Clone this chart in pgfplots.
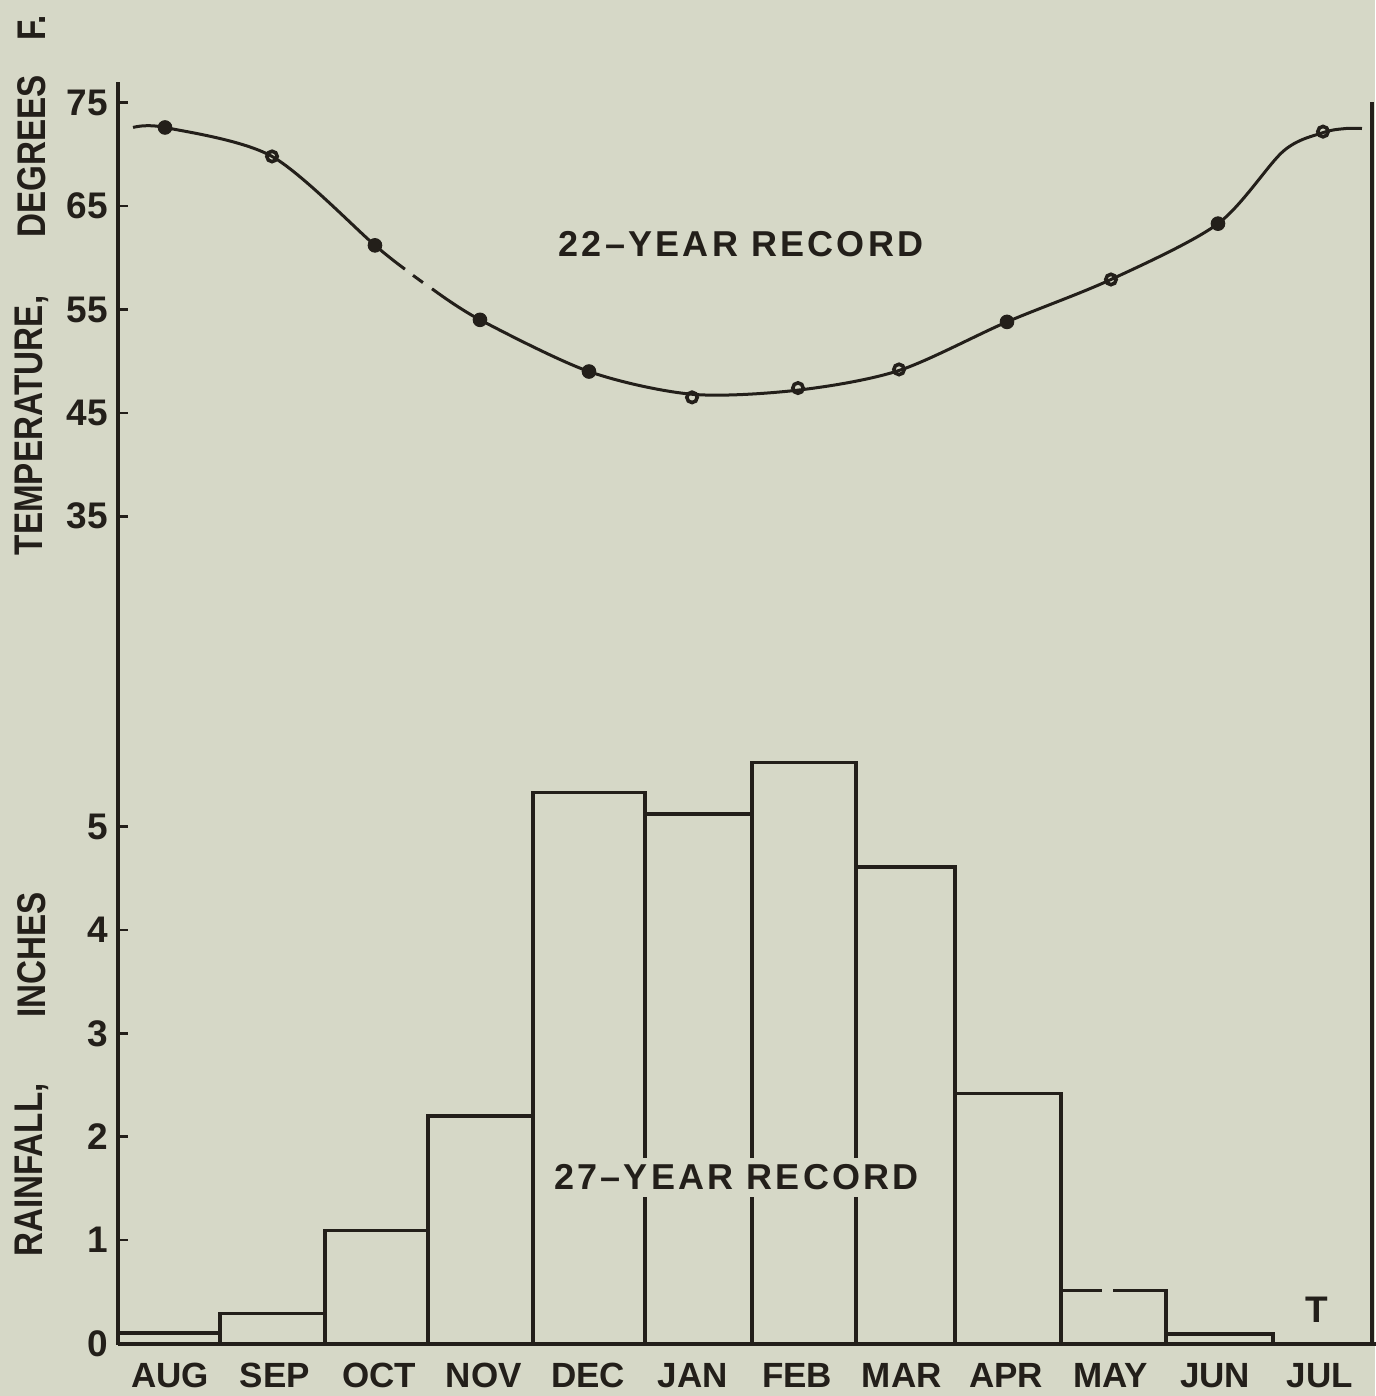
\documentclass[border=0pt]{standalone}
\usepackage{fontspec}
\usepackage{pgfplots}
\pgfplotsset{compat=1.18}
\usepackage{pgfplotstable}
\setmainfont{Liberation Sans}
\newfontfamily\labfont{Liberation Sans Bold}[FakeStretch=0.83]
\newfontfamily\numfont{Liberation Sans Bold}
\newfontfamily\recfont{Liberation Sans Bold}[LetterSpace=9]
\definecolor{bg}{RGB}{214,216,199}
\definecolor{ink}{RGB}{35,31,26}

% temperature curve (x in months, AUG=0; T in degrees F)
\pgfplotstableread{
x T
-0.356 72.6
-0.05 72.6
0.974 69.8
1.959 61.2
2.246 58.9
}\tempA
\pgfplotstableread{
x T
2.323 58.3
2.418 57.6
}\tempGap
\pgfplotstableread{
x T
2.505 57.0
2.964 54.0
4.007 49.0
4.993 46.8
6.007 47.2
6.974 49.1
8.007 53.8
9.002 57.9
10.026 63.3
10.65 70.3
11.031 72.1
11.25 72.5
11.404 72.5
}\tempB
\pgfplotstableread{
x T
-0.05 72.6
1.959 61.2
2.964 54.0
4.007 49.0
8.007 53.8
10.026 63.3
}\markFilled
\pgfplotstableread{
x T
0.974 69.8
4.993 46.5
6.007 47.4
6.974 49.2
9.002 57.9
11.031 72.2
}\markOpen
% rainfall, inches (left edge of each month, value)
\pgfplotstableread{
x rain
-0.5 0.10
0.476 0.29
1.481 1.09
2.467 2.20
3.471 5.33
4.543 5.12
5.567 5.62
6.562 4.61
7.510 2.42
8.524 0
}\rainA
\pgfplotstableread{
x rain
9.529 0.09
10.553 0
}\rainB

\begin{document}
\begin{tikzpicture}
\fill[bg, use as bounding box] (0,0) rectangle (687.5pt,698pt);
\begin{axis}[
  at={(59pt,26.25pt)}, anchor=south west,
  width=627pt, height=630.75pt, scale only axis,
  xmin=-0.5, xmax=11.5, ymin=0, ymax=12.2,
  axis x line=bottom, axis y line=left,
  axis line style={line width=2pt, -, ink},
  clip=false,
  xtick={0,...,11},
  xticklabels={AUG,SEP,OCT,NOV,DEC,JAN,FEB,MAR,APR,MAY,JUN,JUL},
  xtick style={draw=none},
  ytick={0,1,2,3,4,5,8,9,10,11,12},
  yticklabels={0,1,2,3,4,5,35,45,55,65,75},
  ytick style={line width=1.3pt, ink},
  tick align=inside, major tick length=5pt,
  xticklabel style={font=\numfont\fontsize{17.5pt}{17.5pt}\selectfont, text=ink, anchor=base, yshift=-21.75pt},
  yticklabel style={font=\numfont\fontsize{18.5pt}{18.5pt}\selectfont, text=ink, anchor=east, xshift=-1.5pt},
]
\addplot[ybar interval, draw=ink, fill=none, line width=1.7pt] table[x=x, y=rain] {\rainA};
\addplot[ybar interval, draw=ink, fill=none, line width=1.7pt] table[x=x, y=rain] {\rainB};
% May bar, top line broken
\addplot[draw=ink, line width=1.7pt, sharp plot, dash pattern=on 20.5pt off 5.5pt on 200pt] coordinates {(8.524,0.51) (9.529,0.51) (9.529,0)};
% temperature curve
\addplot[draw=ink, line width=1.5pt, smooth, tension=0.5, no marks] table[x=x, y expr=\thisrow{T}/10+4.5] {\tempA};
\addplot[draw=ink, line width=1.5pt, no marks] table[x=x, y expr=\thisrow{T}/10+4.5] {\tempGap};
\addplot[draw=ink, line width=1.5pt, smooth, tension=0.5, no marks] table[x=x, y expr=\thisrow{T}/10+4.5] {\tempB};
\addplot[only marks, mark=*, mark size=3.4pt, mark options={fill=ink, draw=ink, line width=0.5pt}] table[x=x, y expr=\thisrow{T}/10+4.5] {\markFilled};
\addplot[only marks, mark=o, mark size=2.6pt, mark options={fill=bg, draw=ink, line width=1.8pt}] table[x=x, y expr=\thisrow{T}/10+4.5] {\markOpen};
\draw[ink, line width=2pt] (axis cs:11.5,0) -- (axis cs:11.5,12.007);
\draw[ink, line width=2pt] (axis cs:11.45,0) -- (axis cs:11.54,0);
\end{axis}
% annotations
\node[anchor=base, ink, font=\recfont\fontsize{18pt}{18pt}\selectfont] at (370.5pt,569.5pt) {22–YEAR RECORD};
\node[anchor=base, ink, fill=bg, inner xsep=2pt, inner ysep=3.5pt, font=\recfont\fontsize{18pt}{18pt}\selectfont] at (368.25pt,103pt) {27–YEAR RECORD};
\node[anchor=base, ink, font=\numfont\fontsize{18.5pt}{18.5pt}\selectfont] at (658.5pt,36.5pt) {T};
% axis titles
\begin{scope}[every node/.style={rotate=90, anchor=center, ink, inner sep=0pt, font=\labfont\fontsize{20pt}{20pt}\selectfont}]
\node at (16pt,485.25pt) {TEMPERATURE,};
\node at (16pt,619.75pt) {DEGREES};
\node at (16pt,684pt) {F.};
\node at (16pt,113pt) {RAINFALL,};
\node at (16pt,220.5pt) {INCHES};
\end{scope}
\end{tikzpicture}
\end{document}
